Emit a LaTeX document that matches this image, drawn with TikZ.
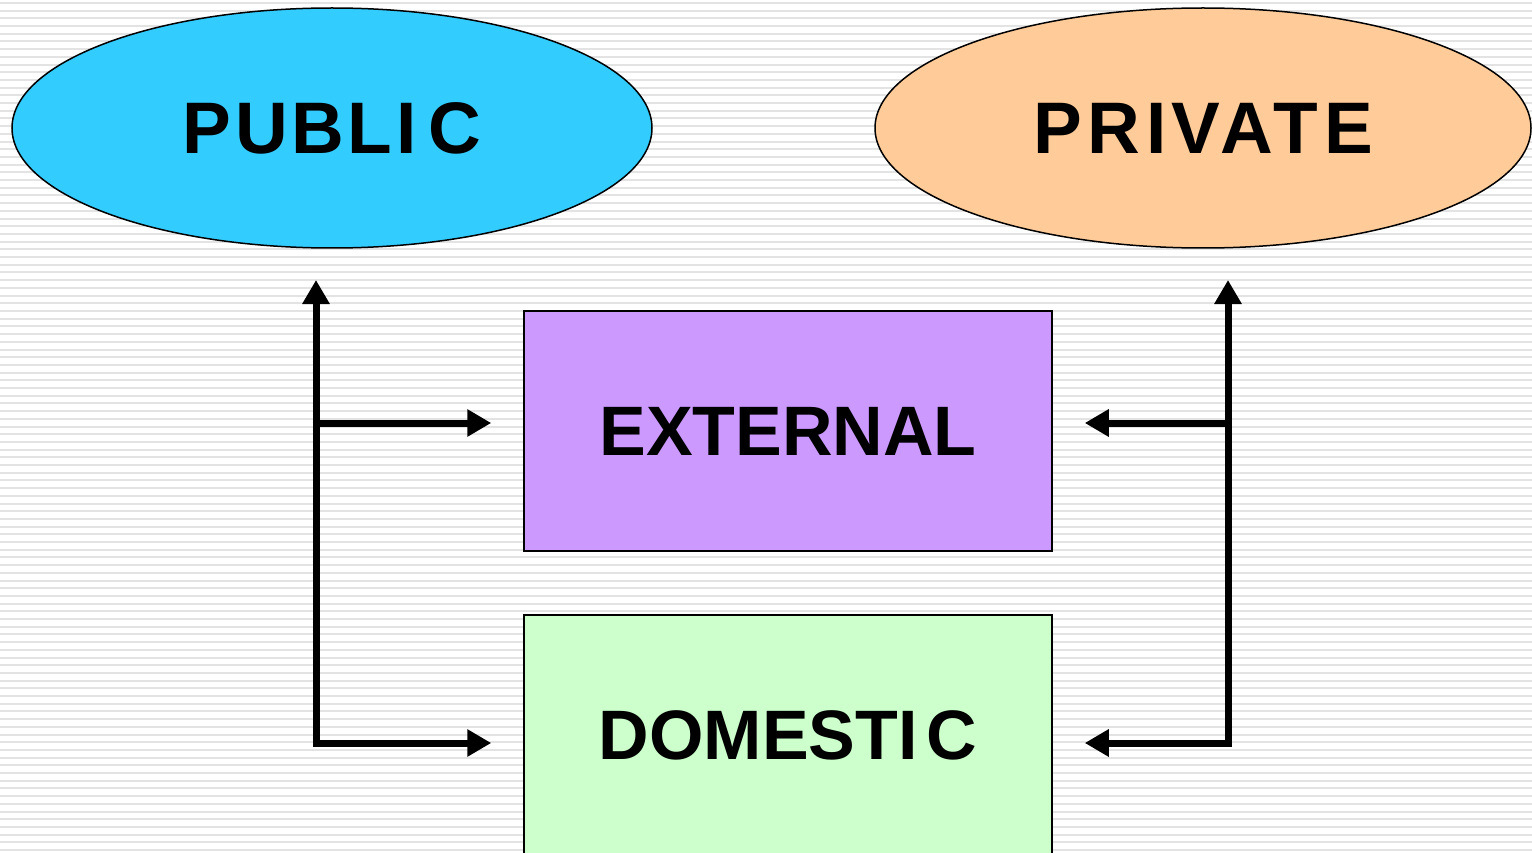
\documentclass[tikz,border=0pt]{standalone}
\usepackage{fontspec}
\setmainfont{Liberation Sans}
\usetikzlibrary{shapes.geometric, arrows.meta}
\definecolor{publicblue}{HTML}{33CCFF}
\definecolor{privatepeach}{HTML}{FFCC99}
\definecolor{externallilac}{HTML}{CC99FF}
\definecolor{domesticmint}{HTML}{CCFFCC}
\definecolor{stripegray}{HTML}{E3E3E3}

\begin{document}
\begin{tikzpicture}[x=1pt, y=-1pt,
    oval/.style={ellipse, draw, line width=1.5pt, inner sep=0pt, minimum height=240pt},
    panel/.style={rectangle, draw, line width=1.5pt, inner sep=0pt, minimum width=528pt, minimum height=240pt},
    ovaltext/.style={font=\fontsize{73}{80}\selectfont\bfseries\addfontfeature{LetterSpace=#1}},
    paneltext/.style={font=\fontsize{70}{76}\selectfont\bfseries},
    link/.style={line width=7pt, line cap=rect, -{Triangle[length=24pt, width=26pt]}}]

% striped background
\useasboundingbox (0,0) rectangle (1532,853);
\fill[white] (0,0) rectangle (1532,853);
\clip (0,0) rectangle (1532,853);
\foreach \k in {0,...,110} {
    \draw[stripegray, line width=2pt] (0,3+7.7*\k) -- (1532,3+7.7*\k);
}

% sectors
\node[oval, fill=publicblue, minimum width=640pt, ovaltext=5] (public) at (332,128) {PUBLI\hspace*{12pt}C};
\node[oval, fill=privatepeach, minimum width=656pt, ovaltext=8] (private) at (1203,128) {PRI\hspace*{5pt}VATE};

% accounts
\node[panel, fill=externallilac, paneltext] (external) at (788,431) {EXTERNAL};
\node[panel, fill=domesticmint, paneltext] (domestic) at (788,735) {DOMESTI\hspace*{9pt}C};

% left branch
\coordinate (pubtop) at (316,280);
\coordinate (pubbot) at (316,743);
\coordinate (pubmid) at (316,423);
\draw[link] (pubbot) -- (pubtop);
\draw[link, shorten >=32pt] (pubmid) -- (pubmid -| external.west);
\draw[link, shorten >=32pt] (pubbot) -- (pubbot -| domestic.west);

% right branch
\coordinate (pritop) at (1228,280);
\coordinate (pribot) at (1228,743);
\coordinate (primid) at (1228,423);
\draw[link] (pribot) -- (pritop);
\draw[link, shorten >=32pt] (primid) -- (primid -| external.east);
\draw[link, shorten >=32pt] (pribot) -- (pribot -| domestic.east);
\end{tikzpicture}
\end{document}
